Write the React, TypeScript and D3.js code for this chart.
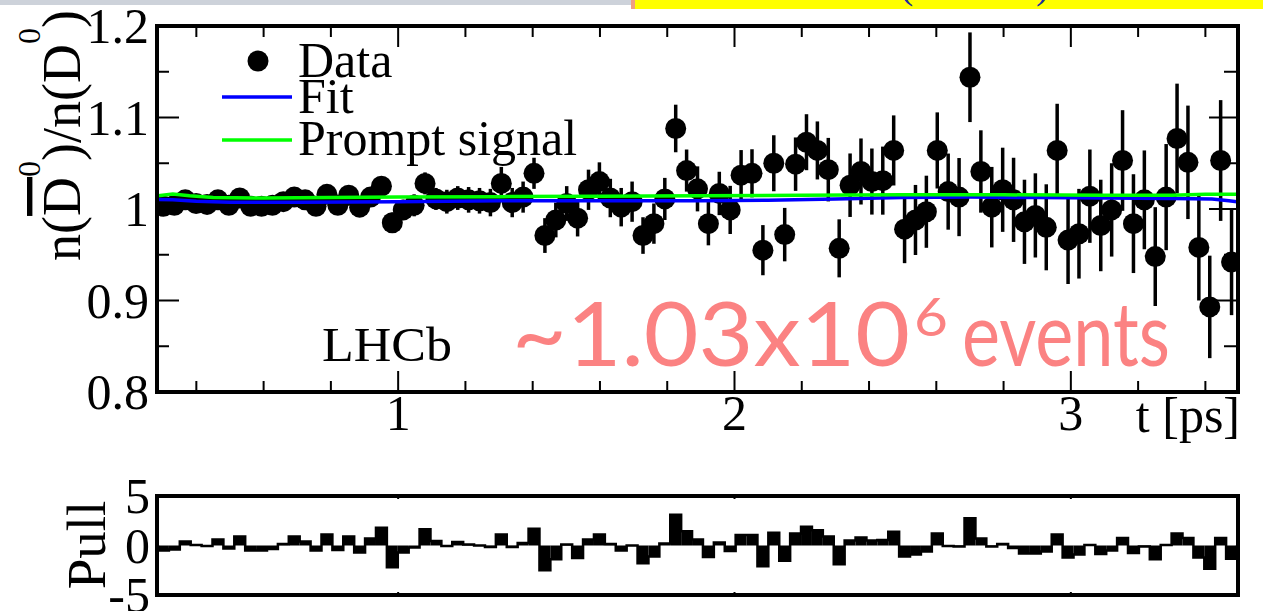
import React from 'react';
import * as d3 from 'd3';

// ---------------- data ----------------
const T_MIN = 0.286;
const T_MAX = 3.494;
const N_BINS = 99;

const ratio = [
  1.003, 1.004, 1.010, 1.006, 1.005, 1.010, 1.004, 1.012, 1.003, 1.003,
  1.004, 1.008, 1.013, 1.010, 1.003, 1.016, 1.004, 1.015, 1.002, 1.013,
  1.025, 0.985, 0.999, 1.004, 1.028, 1.011, 1.008, 1.012, 1.010, 1.009,
  1.007, 1.028, 1.007, 1.013, 1.039, 0.971, 0.988, 1.006, 0.990, 1.021,
  1.030, 1.012, 1.002, 1.008, 0.971, 0.984, 1.011, 1.088, 1.042, 1.022,
  0.984, 1.017, 0.999, 1.037, 1.039, 0.955, 1.050, 0.972, 1.049, 1.073,
  1.064, 1.043, 0.957, 1.026, 1.041, 1.030, 1.031, 1.064, 0.978, 0.988,
  0.997, 1.064, 1.019, 1.013, 1.144, 1.041, 1.002, 1.021, 1.010, 0.986,
  0.993, 0.980, 1.064, 0.966, 0.973, 1.014, 0.982, 0.999, 1.053, 0.984,
  1.010, 0.948, 1.013, 1.077, 1.051, 0.958, 0.893, 1.053, 0.942,
];

const ratioErr = [
  0.004, 0.004, 0.004, 0.005, 0.005, 0.005, 0.005, 0.005, 0.006, 0.006,
  0.006, 0.006, 0.007, 0.007, 0.007, 0.008, 0.008, 0.008, 0.009, 0.009,
  0.010, 0.011, 0.011, 0.012, 0.012, 0.012, 0.013, 0.013, 0.014, 0.014,
  0.015, 0.018, 0.016, 0.017, 0.017, 0.019, 0.019, 0.019, 0.020, 0.022,
  0.021, 0.021, 0.021, 0.022, 0.020, 0.022, 0.023, 0.026, 0.023, 0.0246,
  0.0237, 0.0237, 0.0263, 0.0274, 0.0263, 0.0274, 0.0306, 0.0292, 0.0292, 0.0306,
  0.0317, 0.0347, 0.0317, 0.0347, 0.0361, 0.0361, 0.0372, 0.0383, 0.0372, 0.0383,
  0.0394, 0.0416, 0.0416, 0.0427, 0.049, 0.045, 0.044, 0.046, 0.046, 0.046,
  0.046, 0.047, 0.051, 0.048, 0.049, 0.051, 0.050, 0.051, 0.055, 0.054,
  0.054, 0.054, 0.058, 0.060, 0.062, 0.058, 0.056, 0.066, 0.058,
];

const pulls = [
  -0.5, -0.4, 0.4, 0.05, -0.05, 0.6, -0.3, 0.9, -0.5, -0.5,
  -0.35, 0.15, 0.9, 0.4, -0.5, 1.1, -0.45, 0.9, -0.7, 0.7,
  1.8, -2.2, -0.7, -0.2, 1.65, 0.45, -0.05, 0.35, 0.1, 0.0,
  -0.15, 1.1, -0.15, 0.25, 1.7, -2.5, -1.4, 0.1, -1.25, 0.6,
  1.1, 0.15, -0.5, 0.0, -1.8, -1.1, 0.2, 3.1, 1.45, 0.6,
  -1.15, 0.3, -0.55, 1.05, 1.05, -2.1, 1.3, -1.55, 1.2, 1.9,
  1.55, 0.9, -1.9, 0.5, 0.8, 0.5, 0.55, 1.4, -1.1, -0.9,
  -0.6, 1.2, -0.05, -0.1, 2.75, 0.7, -0.1, 0.15, -0.25, -0.8,
  -0.8, -0.6, 1.1, -1.2, -0.9, 0.05, -0.85, -0.5, 0.75, -0.75,
  -0.1, -1.4, 0.05, 1.2, 0.75, -1.2, -2.35, 0.75, -1.35,
];

const fitT = [0.286, 0.33, 0.4, 0.5, 0.7, 1.0, 1.3, 1.6, 1.9, 2.1, 2.3, 2.5, 2.7, 2.9, 3.1, 3.3, 3.42, 3.47, 3.494];
const fitV = [1.0105, 1.010, 1.0085, 1.0075, 1.0075, 1.008, 1.009, 1.009, 1.009, 1.0095, 1.011, 1.0125, 1.013, 1.0125, 1.012, 1.0115, 1.011, 1.009, 1.008];

const promptT = [0.286, 0.33, 0.38, 0.45, 0.6, 0.8, 1.0, 1.3, 1.6, 1.9, 2.2, 2.5, 2.8, 3.1, 3.3, 3.4, 3.494];
const promptV = [1.0145, 1.0165, 1.0145, 1.0125, 1.012, 1.0125, 1.013, 1.0135, 1.014, 1.0145, 1.015, 1.0155, 1.0155, 1.015, 1.015, 1.016, 1.016];

const yTicks = [0.8, 0.9, 1.0, 1.1, 1.2];
const yTickLabels = ['0.8', '0.9', '1', '1.1', '1.2'];
const yMinorTicks = [0.85, 0.95, 1.05, 1.15];
const xTicks = [1, 2, 3];
const xTickLabels = ['1', '2', '3'];
const xMinorTicks = [0.4, 0.6, 0.8, 1.2, 1.4, 1.6, 1.8, 2.2, 2.4, 2.6, 2.8, 3.2, 3.4];
const pullTicks = [5, 0, -5];
const pullTickLabels = ['5', '0', '-5'];

// ---------------- layout ----------------
const W = 1263;
const H = 611;
const PL = 158, PR = 1237;
const TOP_T = 26, TOP_B = 392;
const PULL_T = 496, PULL_B = 595;
const SERIF = '"Liberation Serif", "Times New Roman", "DejaVu Serif", serif';
const FS = 50;

export default function App() {
  const x = d3.scaleLinear().domain([T_MIN, T_MAX]).range([PL, PR]);
  const y = d3.scaleLinear().domain([0.8, 1.2]).range([TOP_B, TOP_T]);
  const yp = d3.scaleLinear().domain([-5, 5]).range([PULL_B, PULL_T]);
  const bw = (T_MAX - T_MIN) / N_BINS;
  const edges = d3.range(N_BINS + 1).map((i) => T_MIN + i * bw);
  const centers = d3.range(N_BINS).map((i) => T_MIN + (i + 0.5) * bw);

  const line = d3.line<[number, number]>().x((d) => x(d[0])).y((d) => y(d[1]));
  const fitPath = line(fitT.map((t, i) => [t, fitV[i]] as [number, number])) || '';
  const promptPath = line(promptT.map((t, i) => [t, promptV[i]] as [number, number])) || '';

  // pull step outline
  let step = `M${x(edges[0])},${yp(0)}`;
  pulls.forEach((p, i) => {
    step += `L${x(edges[i])},${yp(p)}L${x(edges[i + 1])},${yp(p)}`;
  });
  step += `L${x(edges[N_BINS])},${yp(0)}`;

  return (
    <svg width={W} height={H} style={{ position: 'absolute', left: 0, top: 0, background: '#fff' }}>
      <defs>
        <clipPath id="topclip">
          <rect x={PL} y={TOP_T} width={PR - PL} height={TOP_B - TOP_T} />
        </clipPath>
      </defs>
      {/* slide remnants at the very top */}
      <rect x={0} y={0} width={633} height={5} fill="#cdd2da" />
      <rect x={633} y={0} width={W - 633} height={9} fill="#ffff00" />
      <rect x={631} y={0} width={4} height={9} fill="#f0a080" />
      <text x={900} y={-2} fontSize={40} fontFamily={SERIF} fill="#1c2c9c">(</text>
      <text x={1036} y={-2} fontSize={40} fontFamily={SERIF} fill="#1c2c9c">)</text>

      {/* ===== top panel ===== */}
      {yTicks.map((v) => (
        <g key={'yt' + v}>
          <line x1={PL} x2={PL + 21} y1={y(v)} y2={y(v)} stroke="#000" strokeWidth={2} />
          <line x1={PR} x2={PR - 28} y1={y(v)} y2={y(v)} stroke="#000" strokeWidth={2} />
        </g>
      ))}
      {yMinorTicks.map((v) => (
        <g key={'ym' + v}>
          <line x1={PL} x2={PL + 11} y1={y(v)} y2={y(v)} stroke="#000" strokeWidth={2} />
          <line x1={PR} x2={PR - 13} y1={y(v)} y2={y(v)} stroke="#000" strokeWidth={2} />
        </g>
      ))}
      {xTicks.map((v) => (
        <g key={'xt' + v}>
          <line x1={x(v)} x2={x(v)} y1={TOP_B} y2={TOP_B - 21} stroke="#000" strokeWidth={2} />
          <line x1={x(v)} x2={x(v)} y1={TOP_T} y2={TOP_T + 21} stroke="#000" strokeWidth={2} />
        </g>
      ))}
      {xMinorTicks.map((v) => (
        <g key={'xm' + v}>
          <line x1={x(v)} x2={x(v)} y1={TOP_B} y2={TOP_B - 11} stroke="#000" strokeWidth={2} />
          <line x1={x(v)} x2={x(v)} y1={TOP_T} y2={TOP_T + 11} stroke="#000" strokeWidth={2} />
        </g>
      ))}

      <g clipPath="url(#topclip)">
        {ratio.map((v, i) => (
          <line key={'e' + i} x1={x(centers[i])} x2={x(centers[i])}
            y1={y(v - ratioErr[i])} y2={y(v + ratioErr[i])} stroke="#000" strokeWidth={3.5} />
        ))}
        {ratio.map((v, i) => (
          <circle key={'m' + i} cx={x(centers[i])} cy={y(v)} r={10.5} fill="#000" />
        ))}
        <path d={fitPath} fill="none" stroke="#0000ff" strokeWidth={3.5} />
        <path d={promptPath} fill="none" stroke="#00ff00" strokeWidth={3.5} />
      </g>

      <rect x={PL - 1} y={TOP_T} width={PR - PL + 2} height={TOP_B - TOP_T} fill="none" stroke="#000" strokeWidth={4} />

      {yTicks.map((v, i) => (
        <text key={'yl' + v} x={149} y={y(v) + 17} textAnchor="end" fontFamily={SERIF} fontSize={FS}>{yTickLabels[i]}</text>
      ))}
      {xTicks.map((v, i) => (
        <text key={'xl' + v} x={x(v)} y={430} textAnchor="middle" fontFamily={SERIF} fontSize={FS}>{xTickLabels[i]}</text>
      ))}
      <text x={1240} y={432} textAnchor="end" fontFamily={SERIF} fontSize={FS}>t [ps]</text>

      {/* y title */}
      <text transform="translate(80,10) rotate(-90)" textAnchor="end" fontFamily={SERIF} fontSize={54}>
        n(<tspan style={{ textDecoration: 'overline' }}>D</tspan>
        <tspan dy={-40} fontSize={32}>0</tspan>
        <tspan dy={40}>)/n(D</tspan>
        <tspan dy={-40} fontSize={32}>0</tspan>
        <tspan dy={40}>)</tspan>
      </text>

      {/* legend */}
      <circle cx={258} cy={61} r={10.5} fill="#000" />
      <text x={298} y={77} fontFamily={SERIF} fontSize={FS}>Data</text>
      <line x1={222} x2={292} y1={97} y2={97} stroke="#0000ff" strokeWidth={3.5} />
      <text x={298} y={113} fontFamily={SERIF} fontSize={FS}>Fit</text>
      <line x1={222} x2={292} y1={140} y2={140} stroke="#00ff00" strokeWidth={3.5} />
      <text x={298} y={155} fontFamily={SERIF} fontSize={FS}>Prompt signal</text>

      {/* LHCb */}
      <text x={322} y={361} fontFamily={SERIF} fontSize={48} textLength={130} lengthAdjust="spacingAndGlyphs">LHCb</text>

      {/* events annotation */}
      <g fill="#fb8282" fontFamily="Lato, 'Open Sans', sans-serif">
        <text x={512} y={366} fontSize={90} textLength={398} lengthAdjust="spacingAndGlyphs">~1.03x10</text>
        <text x={914} y={336} fontSize={52} textLength={34} lengthAdjust="spacingAndGlyphs">6</text>
        <text x={962} y={366} fontSize={90} textLength={208} lengthAdjust="spacingAndGlyphs">events</text>
      </g>

      {/* ===== pull panel ===== */}
      <g>
        {pulls.map((p, i) => (
          <rect key={'p' + i} x={x(edges[i])} width={x(edges[i + 1]) - x(edges[i])}
            y={Math.min(yp(p), yp(0))} height={Math.abs(yp(p) - yp(0))} fill="#000" />
        ))}
        <path d={step} fill="none" stroke="#000" strokeWidth={2.5} />
      </g>
      {xTicks.map((v) => (
        <g key={'pt' + v}>
          <line x1={x(v)} x2={x(v)} y1={PULL_T} y2={PULL_T + 3} stroke="#000" strokeWidth={2} />
          <line x1={x(v)} x2={x(v)} y1={PULL_B} y2={PULL_B - 3} stroke="#000" strokeWidth={2} />
        </g>
      ))}
      <rect x={PL - 1} y={PULL_T} width={PR - PL + 2} height={PULL_B - PULL_T} fill="none" stroke="#000" strokeWidth={4} />
      {pullTicks.map((v, i) => (
        <text key={'pl' + v} x={150} y={yp(v) + 17} textAnchor="end" fontFamily={SERIF} fontSize={FS}>{pullTickLabels[i]}</text>
      ))}
      <text transform="translate(105,545) rotate(-90)" textAnchor="middle" fontFamily={SERIF} fontSize={55}>Pull</text>
    </svg>
  );
}
